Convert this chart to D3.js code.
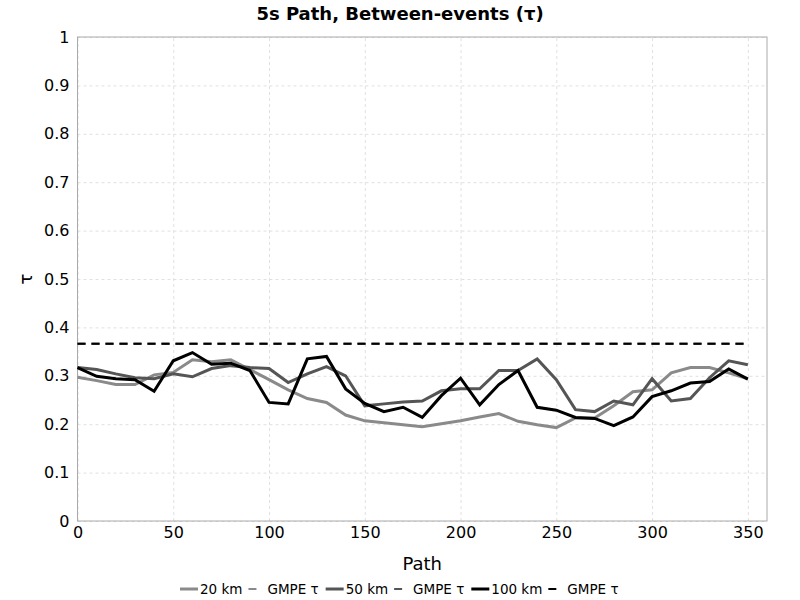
<!DOCTYPE html>
<html>
<head>
<meta charset="utf-8">
<script src="https://cdn.jsdelivr.net/npm/d3@7"></script>
<style>
  body { margin: 0; background: #fff; }
  text { font-family: "DejaVu Sans", sans-serif; }
  .grid line { stroke: #e0e0e0; stroke-dasharray: 3,3; }
  .grid path { display: none; }
  .axis path, .axis line { display: none; }
  .axis text { font-size: 16px; fill: #000; }
</style>
</head>
<body>
<div id="chart"></div>
<script>
// path index along x (every 10 up to 350)
const paths = d3.range(0, 351, 10);

const tau20 = [0.297, 0.290, 0.282, 0.282, 0.302, 0.307, 0.333, 0.329, 0.333, 0.313,
  0.292, 0.271, 0.253, 0.245, 0.219, 0.207, 0.203, 0.199, 0.195, 0.201,
  0.207, 0.215, 0.222, 0.206, 0.199, 0.193, 0.213, 0.213, 0.238, 0.267,
  0.271, 0.306, 0.317, 0.317, 0.306, 0.294];

const tau50 = [0.317, 0.313, 0.304, 0.296, 0.294, 0.304, 0.298, 0.315, 0.321, 0.317,
  0.315, 0.286, 0.304, 0.319, 0.300, 0.238, 0.242, 0.246, 0.248, 0.269,
  0.273, 0.273, 0.311, 0.311, 0.335, 0.292, 0.230, 0.226, 0.248, 0.240,
  0.294, 0.248, 0.253, 0.296, 0.331, 0.323];

const tau100 = [0.317, 0.299, 0.294, 0.292, 0.268, 0.331, 0.348, 0.324, 0.326, 0.311,
  0.245, 0.242, 0.335, 0.340, 0.273, 0.243, 0.226, 0.235, 0.214, 0.259,
  0.295, 0.240, 0.282, 0.311, 0.235, 0.229, 0.214, 0.212, 0.197, 0.215,
  0.257, 0.269, 0.285, 0.288, 0.314, 0.293];

// GMPE tau for each distance (all the same here)
const gmpeTau = [0.366, 0.366, 0.366];

const seriesNames = ["20 km", "50 km", "100 km"];
const seriesColors = ["#8a8a8a", "#555555", "#000000"];
const yTicks = [0, 0.1, 0.2, 0.3, 0.4, 0.5, 0.6, 0.7, 0.8, 0.9, 1];
const xTicks = [0, 50, 100, 150, 200, 250, 300, 350];

const width = 800, height = 600;
const margin = {top: 37, left: 77.5, right: 33, bottom: 79};
const w = width - margin.left - margin.right, h = height - margin.top - margin.bottom;

const svg = d3.select("#chart").append("svg").attr("width", width).attr("height", height);

const x = d3.scaleLinear().domain([0, 360]).range([0, w]);
const y = d3.scaleLinear().domain([0, 1]).range([h, 0]);

svg.append("text").attr("x", width / 2).attr("y", 20).attr("text-anchor", "middle")
  .attr("font-size", 18).attr("font-weight", "bold").text("5s Path, Between-events (\u03c4)");

const g = svg.append("g").attr("transform", `translate(${margin.left},${margin.top})`);

// grid
g.append("g").attr("class", "grid")
  .call(d3.axisLeft(y).tickValues(yTicks).tickSize(-w).tickFormat(""));
g.append("g").attr("class", "grid").attr("transform", `translate(0,${h})`)
  .call(d3.axisBottom(x).tickValues(xTicks).tickSize(-h).tickFormat(""));

// axes (labels only)
g.append("g").attr("class", "axis")
  .call(d3.axisLeft(y).tickValues(yTicks).tickSize(0).tickPadding(8).tickFormat(d3.format("~g")));
g.append("g").attr("class", "axis").attr("transform", `translate(0,${h})`)
  .call(d3.axisBottom(x).tickValues(xTicks).tickSize(0).tickPadding(6));

// plot border
g.append("rect").attr("width", w).attr("height", h)
  .attr("fill", "none").attr("stroke", "#aaaaaa").attr("stroke-width", 1);

// GMPE reference lines
gmpeTau.forEach((t, i) => {
  g.append("line")
    .attr("x1", x(0)).attr("x2", x(350))
    .attr("y1", y(t)).attr("y2", y(t))
    .attr("stroke", seriesColors[i]).attr("stroke-width", 2)
    .attr("stroke-dasharray", "8,6");
});

const line = d3.line().x((d, i) => x(paths[i])).y(d => y(d));
[tau20, tau50, tau100].forEach((s, i) => {
  g.append("path").datum(s).attr("d", line)
    .attr("fill", "none").attr("stroke", seriesColors[i]).attr("stroke-width", 3)
    .attr("stroke-linejoin", "miter");
});

// axis titles
svg.append("text").attr("x", margin.left + w / 2).attr("y", 570).attr("text-anchor", "middle")
  .attr("font-size", 18).text("Path");
svg.append("text").attr("transform", `translate(32,${margin.top + h / 2}) rotate(-90)`)
  .attr("text-anchor", "middle").attr("font-size", 18).text("\u03c4");

// legend
const leg = svg.append("g").attr("transform", "translate(180,589)");
let lx = 0;
seriesNames.forEach((name, i) => {
  leg.append("line").attr("x1", lx).attr("x2", lx + 18).attr("y1", 0).attr("y2", 0)
    .attr("stroke", seriesColors[i]).attr("stroke-width", 3);
  const t1 = leg.append("text").attr("x", lx + 20).attr("y", 5).attr("font-size", 13.5).text(name);
  lx += 20 + t1.node().getComputedTextLength() + 6;
  leg.append("line").attr("x1", lx).attr("x2", lx + 8).attr("y1", 0).attr("y2", 0)
    .attr("stroke", seriesColors[i]).attr("stroke-width", 2);
  const t2 = leg.append("text").attr("x", lx + 19).attr("y", 5).attr("font-size", 13.5).text("GMPE \u03c4");
  lx += 19 + t2.node().getComputedTextLength() + 7;
});
</script>
</body>
</html>
